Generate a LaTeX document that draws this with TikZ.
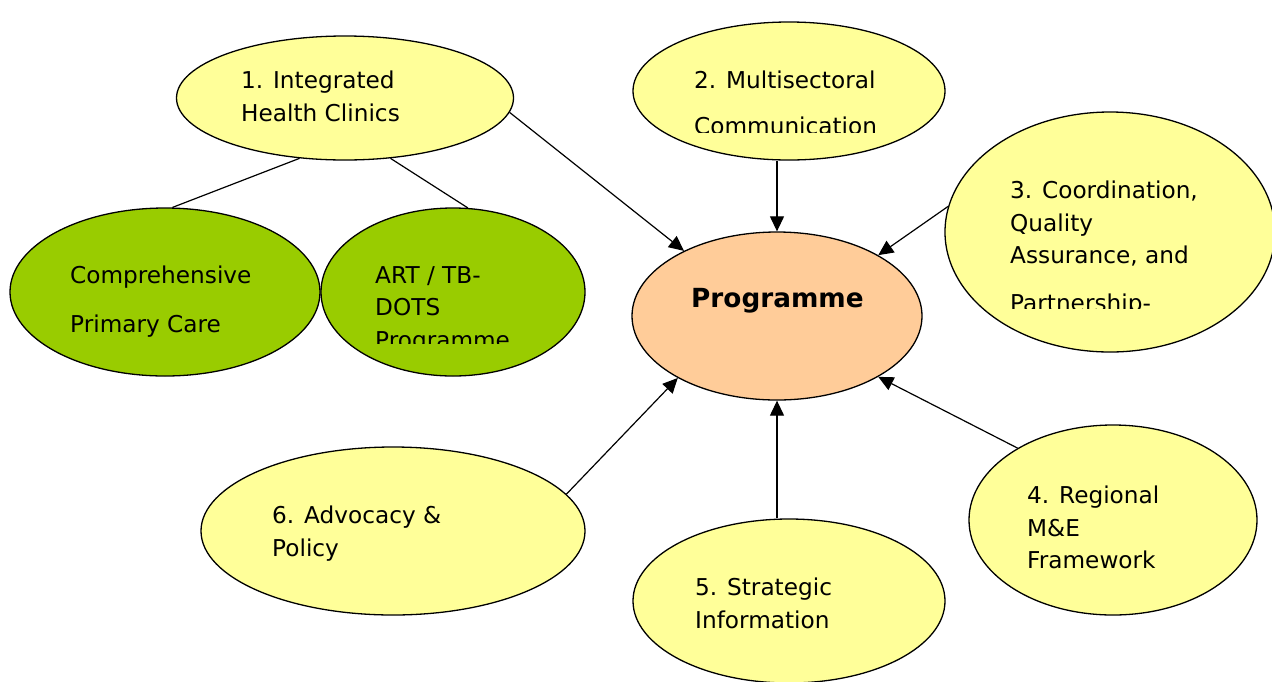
\documentclass[tikz,border=0pt]{standalone}
\usepackage{fontspec}
\setmainfont{DejaVu Sans}
\usetikzlibrary{arrows.meta,shapes.geometric}

\definecolor{paleyellow}{HTML}{FFFF99}
\definecolor{leafgreen}{HTML}{99CC00}
\definecolor{peach}{HTML}{FFCC99}

\begin{document}
\begin{tikzpicture}[
	x=1pt, y=-1pt,
	>={Triangle[length=15pt,width=14pt]},
	bubble/.style={draw, ellipse, line width=1.3pt, inner sep=0pt},
	area/.style={bubble, fill=paleyellow},
	sub/.style={bubble, fill=leafgreen},
	txt/.style={anchor=north west, inner sep=0pt, align=left, font=\fontsize{23.2}{32.5}\selectfont},
	link/.style={line width=1.2pt}
]
\useasboundingbox[fill=white] (0,0) rectangle (1272,681);

\node[area, minimum width=337pt, minimum height=124pt] (clinics) at (345,98) {};
\node[area, minimum width=312pt, minimum height=138pt] (comm) at (789,91) {};
\node[area, minimum width=330pt, minimum height=240pt] (coord) at (1110,232) {};
\node[bubble, fill=peach, minimum width=290pt, minimum height=168pt] (prog) at (777,316) {};
\node[sub, minimum width=310pt, minimum height=168pt] (primary) at (165,292) {};
\node[sub, minimum width=264pt, minimum height=168pt] (art) at (453,292) {};
\node[area, minimum width=288pt, minimum height=190pt] (mande) at (1113,520) {};
\node[area, minimum width=312pt, minimum height=164pt] (info) at (789,601) {};
\node[area, minimum width=384pt, minimum height=168pt] (policy) at (393,531) {};

\node[txt] (clinicstxt) at (241,71) {1. Integrated\\Health Clinics};
\begin{scope}
	\clip (640,40) rectangle (940,132);
	\node[txt] (commtxt) at (694,71) {2. Multisectoral\\[13pt]Communication};
\end{scope}
\begin{scope}
	\clip (950,160) rectangle (1272,308);
	\node[txt] (coordtxt) at (1010,181) {3. Coordination,\\Quality\\Assurance, and\\[15pt]Partnership-};
\end{scope}
\node[txt] (primarytxt) at (70,266) {Comprehensive\\[16pt]Primary Care};
\begin{scope}
	\clip (330,240) rectangle (580,343);
	\node[txt] (arttxt) at (375,266) {ART / TB-\\DOTS\\Programme};
\end{scope}
\node[txt, font=\fontsize{26.3}{30}\selectfont\bfseries] (progtxt) at (691,288) {Programme};
\node[txt] (mandetxt) at (1027,486) {4. Regional\\M\&E\\Framework};
\node[txt] (infotxt) at (695,578) {5. Strategic\\Information};
\node[txt] (policytxt) at (272,506) {6. Advocacy \&\\Policy};

\draw[link] (clinics.-127) -- (primary.85);
\draw[link] (clinics.-53) -- (art.80);

\draw[link, ->] (clinics.-5) -- (prog.145);
\draw[link, ->] (comm.south -| prog.north) -- (prog.north);
\draw[link, ->] (coord.171) -- (prog.31);
\draw[link, ->] (mande.143) -- (prog.-31);
\draw[link, ->] (info.north -| prog.south) -- (prog.south);
\draw[link, ->] (policy.12) -- (prog.-148);

\end{tikzpicture}
\end{document}
